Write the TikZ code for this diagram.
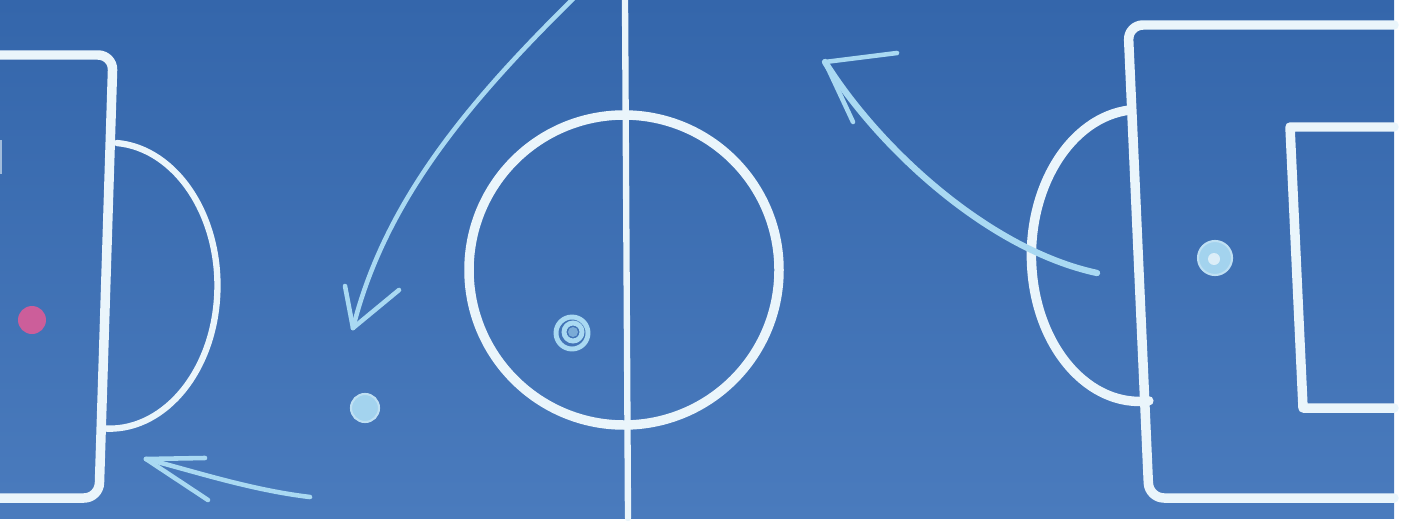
\documentclass[tikz,border=0pt]{standalone}
\usepackage[dvipsnames]{xcolor}
\usepackage{tikz}
\usetikzlibrary{calc}
\definecolor{cboard}{HTML}{3466AB}
\definecolor{cboardL}{HTML}{4A7BBD}
\definecolor{cchalk}{HTML}{EAF5FB}
\definecolor{carrow}{HTML}{A9D9F2}
\definecolor{cspot}{HTML}{A3D3EE}
\definecolor{cpink}{HTML}{CC5E9A}
\tikzset{
  chalk/.style={draw=cchalk, line width=2.7pt, line cap=round, line join=round},
  chalkthin/.style={chalk, line width=1.8pt},
  arrowline/.style={draw=carrow, line width=1.3pt, line cap=round},
  spotdot/.style={fill=cspot, draw=cspot!70!white, line width=0.6pt},
}

\begin{document}
\begin{tikzpicture}[x=0.1mm, y=-0.1mm]
  \useasboundingbox (0,0) rectangle (1402,522);
  \fill[top color=cboard, bottom color=cboardL] (0,0) rectangle (1394,518);
  % left half
  \draw[chalk, rounded corners=1.5mm] (0,55) -- (113,55) -- (99,498) -- (0,498);
  \draw[draw=cchalk!60!cboard, line width=0.8pt] (0.5,140) -- (0.5,174);
  \draw[chalkthin] (117,143) arc[start angle=-86, end angle=94, x radius=108, y radius=143];
  \fill[cpink] (32,320) circle[radius=14];
  % halfway line and centre circle
  \draw[chalkthin] (625,0) -- (628,518);
  \draw[chalk] (624,270) circle[radius=155];
  % right half
  \draw[chalk, rounded corners=1.5mm] (1394,25) -- (1128,25) -- (1149,498) -- (1394,498);
  \draw[chalk] (1394,127) -- (1290,127) -- (1303,408) -- (1394,408);
  \draw[chalk] (1130,110) arc[start angle=265, end angle=85, x radius=108, y radius=146];
  % spots
  \fill[spotdot] (365,408) circle[radius=14];
  \draw[carrow, line width=1.4pt] (572,333) circle[radius=16] (573,332) circle[radius=9];
  \fill[carrow!60!cboard] (573,332) circle[radius=5];
  \fill[spotdot] (1215,258) circle[radius=17];
  \fill[cchalk!80!cspot] (1214,259) circle[radius=6];
  % arrows
  \coordinate (ta) at (353,328);
  \draw[arrowline] (577,-5) .. controls (470,100) and (385,200) .. (ta);
  \draw[arrowline] (ta) -- (345,286);
  \draw[arrowline] (ta) -- (399,290);
  \coordinate (tb) at (146,459);
  \draw[arrowline] (310,497) .. controls (250,490) and (190,470) .. (tb);
  \draw[arrowline] (tb) -- (205,458);
  \draw[arrowline] (tb) -- (208,500);
  \coordinate (tc) at (825,62);
  \draw[arrowline, line width=1.8pt] (1097,273) .. controls (990,250) and (880,150) .. (tc);
  \draw[arrowline] (tc) -- (897,53);
  \draw[arrowline] (tc) -- (853,122);
\end{tikzpicture}
\end{document}
